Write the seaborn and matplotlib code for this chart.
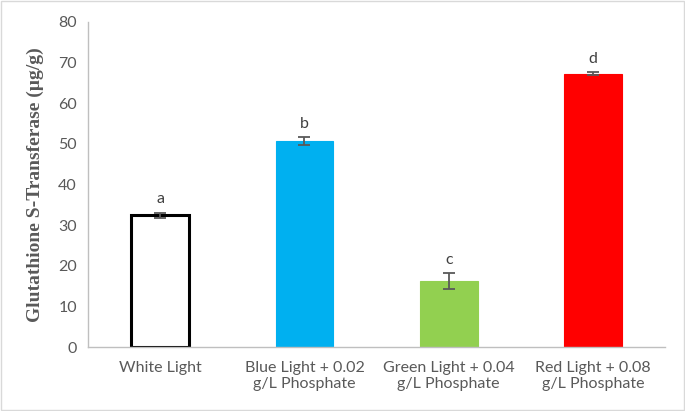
"""Glutathione S-transferase by light treatment, bar chart with error bars."""

import matplotlib

matplotlib.use("Agg")
import matplotlib.pyplot as plt
import pandas as pd
import seaborn as sns

sns.set_theme(style="white")
plt.rcParams["font.family"] = ["Lato", "DejaVu Sans"]

CATEGORIES = [
    "White Light",
    "Blue Light + 0.02\ng/L Phosphate",
    "Green Light + 0.04\ng/L Phosphate",
    "Red Light + 0.08\ng/L Phosphate",
]
VALUES = [32.4, 50.7, 16.3, 67.3]
ERRORS = [0.7, 1.0, 2.0, 0.3]
LETTERS = ["a", "b", "c", "d"]
COLORS = ["#ffffff", "#00b0f0", "#92d050", "#ff0000"]
EDGES = ["#000000", "#00b0f0", "#92d050", "#ff0000"]

GREY = "#595959"


def main() -> None:
    df = pd.DataFrame({"treatment": CATEGORIES, "gst": VALUES})

    fig = plt.figure(figsize=(6.85, 4.11), dpi=100)
    ax = fig.add_axes([0.1285, 0.1557, 0.8425, 0.7908])

    sns.barplot(
        data=df,
        x="treatment",
        y="gst",
        hue="treatment",
        palette=COLORS,
        saturation=1,
        legend=False,
        width=0.40,
        ax=ax,
    )
    for patch, edge in zip(ax.patches, EDGES):
        patch.set_edgecolor(edge)
        patch.set_linewidth(2.2 if edge == "#000000" else 0.8)

    xs = list(range(len(CATEGORIES)))
    ax.errorbar(xs, VALUES, yerr=ERRORS, fmt="none", ecolor=GREY,
                elinewidth=1.3, capsize=4, capthick=1.3)
    for x, v, e, lab in zip(xs, VALUES, ERRORS, LETTERS):
        ax.text(x, v + e + 1.5, lab, ha="center", va="bottom",
                fontsize=11.5, color="#404040")

    ax.set_ylim(0, 80)
    ax.set_xlim(-0.5, 3.5)
    ax.set_yticks(range(0, 81, 10))
    ax.set_xlabel("")
    ax.set_ylabel("Glutathione S-Transferase (µg/g)", family="Liberation Serif",
                  fontweight="bold", fontsize=14, color=GREY, labelpad=10)
    ax.tick_params(axis="both", colors=GREY, labelsize=11.5, length=0, pad=8)
    ax.tick_params(axis="x", pad=10)

    sns.despine(ax=ax)
    for side in ("left", "bottom"):
        ax.spines[side].set_color("#bfbfbf")
        ax.spines[side].set_linewidth(1.0)

    fig.patches.append(plt.Rectangle((0.001, 0.002), 0.997, 0.995, transform=fig.transFigure,
                                     fill=False, edgecolor="#d9d9d9", linewidth=1.0))

    fig.savefig("out.png", dpi=100)
    plt.close(fig)


if __name__ == "__main__":
    main()
